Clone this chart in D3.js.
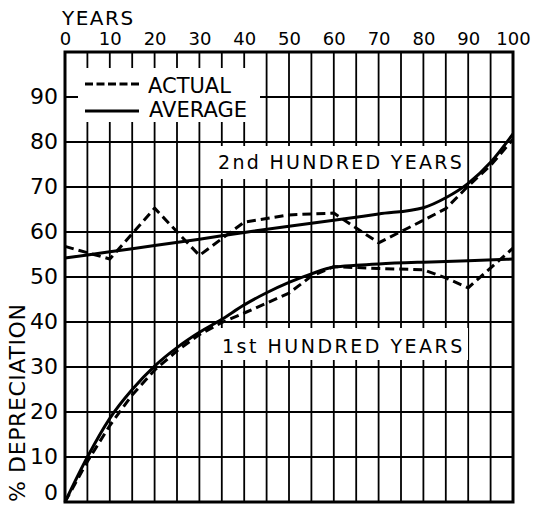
<!DOCTYPE html>
<html>
<head>
<meta charset="utf-8">
<script src="https://cdn.jsdelivr.net/npm/d3@7"></script>
<style>
  html, body { margin: 0; padding: 0; background: #fff; }
  svg { display: block; font-family: "DejaVu Sans", sans-serif; }
</style>
</head>
<body>
<svg id="chart" width="535" height="506"></svg>
<script>
// Tick labels and grid positions
const xTickValues = [0, 10, 20, 30, 40, 50, 60, 70, 80, 90, 100];
const yTickValues = [0, 10, 20, 30, 40, 50, 60, 70, 80, 90];
const xGridValues = [5, 10, 15, 20, 25, 30, 35, 40, 45, 50, 55, 60, 65, 70, 75, 80, 85, 90, 95];
const yGridValues = [10, 20, 30, 40, 50, 60, 70, 80, 90];

// 1st hundred years
const firstAvgYears = [0, 5, 10, 15, 20, 25, 30, 35, 40, 45, 50, 55, 60, 65, 70, 80, 90, 100];
const firstAvgPct   = [0, 10, 18.6, 25, 30.2, 34.3, 37.7, 40.6, 43.8, 46.5, 48.8, 50.7, 52.2, 52.6, 52.9, 53.3, 53.6, 54];
const firstActYears = [0, 5, 10, 15, 20, 25, 30, 35, 40, 45, 50, 55, 60, 70, 80, 85, 90, 100];
const firstActPct   = [0, 9, 17, 23.8, 29.3, 33.6, 37.2, 39.9, 42, 44.2, 46.4, 50.2, 52.3, 51.9, 51.6, 49.8, 47.6, 56.4];

// 2nd hundred years
const secondAvgYears = [0, 10, 20, 30, 40, 50, 60, 70, 80, 85, 90, 95, 100];
const secondAvgPct   = [54.2, 55.6, 57, 58.4, 59.9, 61.3, 62.6, 64, 65.4, 67.6, 70.8, 75.5, 81.8];
const secondActYears = [0, 10, 20, 30, 40, 50, 60, 70, 80, 85, 90, 95, 100];
const secondActPct   = [56.8, 54, 65.3, 54.8, 62.2, 63.8, 64.2, 57.6, 62.6, 65.2, 70.2, 74.8, 80.6];

const svg = d3.select("#chart");
const plotLeft = 65, plotRight = 513, plotTop = 52, plotBottom = 502;

const x = d3.scaleLinear().domain([0, 100]).range([plotLeft, plotRight]);
const y = d3.scaleLinear().domain([0, 100]).range([plotBottom, plotTop]);

// grid
const grid = svg.append("g").attr("stroke", "#000").attr("stroke-width", 1.8);
grid.selectAll("line.v").data(xGridValues).join("line").attr("class", "v")
  .attr("x1", d => x(d)).attr("x2", d => x(d))
  .attr("y1", plotTop).attr("y2", plotBottom);
grid.selectAll("line.h").data(yGridValues).join("line").attr("class", "h")
  .attr("x1", plotLeft).attr("x2", plotRight)
  .attr("y1", d => y(d)).attr("y2", d => y(d));

// white panels behind the legend and the two series labels
const panels = svg.append("g").attr("fill", "#fff");
panels.append("rect").attr("x", 78).attr("y", 68).attr("width", 182).attr("height", 54);
panels.append("rect").attr("x", 212).attr("y", 146).attr("width", 255).attr("height", 33);
panels.append("rect").attr("x", 216).attr("y", 328).attr("width", 252).attr("height", 32);

// frame
svg.append("rect")
  .attr("x", plotLeft).attr("y", plotTop)
  .attr("width", plotRight - plotLeft).attr("height", plotBottom - plotTop)
  .attr("fill", "none").attr("stroke", "#000").attr("stroke-width", 3);

// axes (labels only)
const xAxis = d3.axisTop(x).tickValues(xTickValues).tickSize(0).tickPadding(0)
  .tickFormat(d3.format("d"));
const gx = svg.append("g").attr("transform", "translate(0,45)").call(xAxis);
gx.select(".domain").remove();
gx.selectAll("text").attr("font-size", 18).attr("fill", "#000")
  .attr("font-family", "DejaVu Sans, sans-serif").attr("dy", 0);

const yAxis = d3.axisLeft(y).tickValues(yTickValues).tickSize(0).tickPadding(0)
  .tickFormat(d3.format("d"));
const gy = svg.append("g").attr("transform", "translate(58,0)").call(yAxis);
gy.select(".domain").remove();
gy.selectAll("text").attr("font-size", 22).attr("fill", "#000")
  .attr("font-family", "DejaVu Sans, sans-serif").attr("dy", "0.3em");
gy.selectAll(".tick").filter(d => d === 0).select("text").attr("dy", "-0.1em");

svg.append("text").attr("x", 62).attr("y", 25)
  .attr("font-size", 20).attr("letter-spacing", 1.5).text("YEARS");

svg.append("text")
  .attr("transform", "translate(25,502) rotate(-90)")
  .attr("font-size", 22).attr("letter-spacing", 0.6)
  .text("% DEPRECIATION");

// series
const line = (xs, ys, curve) => d3.line()
  .x((d, i) => x(xs[i])).y(d => y(d)).curve(curve)(ys);

const series = svg.append("g").attr("fill", "none").attr("stroke", "#000")
  .attr("stroke-width", 3).attr("stroke-linejoin", "round");
series.append("path").attr("d", line(firstAvgYears, firstAvgPct, d3.curveMonotoneX));
series.append("path").attr("d", line(secondAvgYears, secondAvgPct, d3.curveMonotoneX));
series.append("path").attr("d", line(firstActYears, firstActPct, d3.curveLinear))
  .attr("stroke-dasharray", "9,5");
series.append("path").attr("d", line(secondActYears, secondActPct, d3.curveLinear))
  .attr("stroke-dasharray", "9,5");

// legend
const legend = svg.append("g");
legend.append("line").attr("x1", 85).attr("x2", 140).attr("y1", 84).attr("y2", 84)
  .attr("stroke", "#000").attr("stroke-width", 3).attr("stroke-dasharray", "8,3.5");
legend.append("line").attr("x1", 85).attr("x2", 139).attr("y1", 111).attr("y2", 111)
  .attr("stroke", "#000").attr("stroke-width", 3);
legend.append("text").attr("x", 148).attr("y", 93).attr("font-size", 21).text("ACTUAL");
legend.append("text").attr("x", 149).attr("y", 117).attr("font-size", 21).text("AVERAGE");

// series labels
svg.append("text").attr("x", 218).attr("y", 169).attr("font-size", 19)
  .attr("letter-spacing", 2.3).text("2nd HUNDRED YEARS");
svg.append("text").attr("x", 222).attr("y", 353).attr("font-size", 19)
  .attr("letter-spacing", 2.5).text("1st HUNDRED YEARS");
</script>
</body>
</html>
